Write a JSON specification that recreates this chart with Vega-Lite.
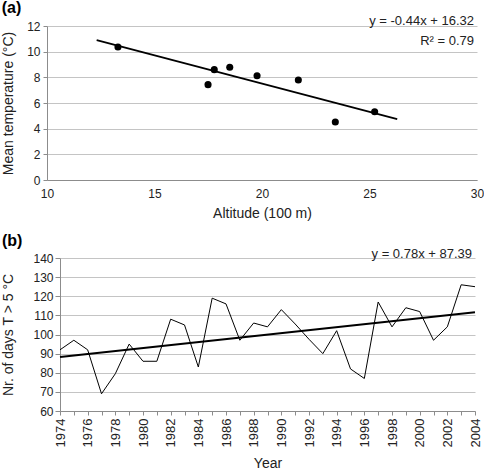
{
  "$schema": "https://vega.github.io/schema/vega-lite/v6.json",
  "padding": {"left": 0, "top": 0, "right": 0, "bottom": 0},
  "spacing": 13,
  "config": {
    "font": "Liberation Sans",
    "view": {"stroke": null},
    "concat": {"spacing": 0},
    "title": {"fontSize": 16, "fontWeight": "bold", "anchor": "start", "frame": "bounds", "color": "#000", "offset": -1.5},
    "axis": {
      "labelFont": "Liberation Sans", "titleFont": "Liberation Sans",
      "labelFontSize": 12, "titleFontSize": 14, "titleFontWeight": "normal",
      "labelColor": "#222", "titleColor": "#222",
      "domainColor": "#8c8c8c", "tickColor": "#8c8c8c", "gridColor": "#c4c4c4",
      "tickSize": 4, "labelOverlap": false, "labelBound": false, "format": "d"
    }
  },
  "datasets": {
    "spacer": [{"s": 0}],
    "alt": [
      {"altitude": 13.3, "temp": 10.36},
      {"altitude": 17.49, "temp": 7.43},
      {"altitude": 17.78, "temp": 8.6},
      {"altitude": 18.5, "temp": 8.78},
      {"altitude": 19.77, "temp": 8.13},
      {"altitude": 21.69, "temp": 7.79},
      {"altitude": 23.41, "temp": 4.52},
      {"altitude": 25.24, "temp": 5.32}
    ],
    "altfit": [
      {"altitude": 12.31, "temp": 10.9},
      {"altitude": 26.29, "temp": 4.75}
    ],
    "altlab": [
      {"x": 30, "y": 12.4, "label": "y = -0.44x + 16.32"},
      {"x": 30, "y": 10.8, "label": "R² = 0.79"}
    ],
    "days": [
      {"year": 1974, "days": 92},
      {"year": 1975, "days": 97},
      {"year": 1976, "days": 92},
      {"year": 1977, "days": 69},
      {"year": 1978, "days": 79.5},
      {"year": 1979, "days": 95},
      {"year": 1980, "days": 86},
      {"year": 1981, "days": 86},
      {"year": 1982, "days": 108},
      {"year": 1983, "days": 105},
      {"year": 1984, "days": 83},
      {"year": 1985, "days": 119},
      {"year": 1986, "days": 116},
      {"year": 1987, "days": 97},
      {"year": 1988, "days": 106},
      {"year": 1989, "days": 104},
      {"year": 1990, "days": 113},
      {"year": 1991, "days": 105.5},
      {"year": 1992, "days": 97.5},
      {"year": 1993, "days": 90},
      {"year": 1994, "days": 102},
      {"year": 1995, "days": 82},
      {"year": 1996, "days": 77},
      {"year": 1997, "days": 117},
      {"year": 1998, "days": 104},
      {"year": 1999, "days": 114},
      {"year": 2000, "days": 112},
      {"year": 2001, "days": 97},
      {"year": 2002, "days": 104},
      {"year": 2003, "days": 126},
      {"year": 2004, "days": 125}
    ],
    "dayfit": [
      {"year": 1974, "days": 88.2},
      {"year": 2004, "days": 111.6}
    ],
    "daylab": [
      {"x": 2004, "y": 142.2, "label": "y = 0.78x + 87.39"}
    ]
  },
  "vconcat": [
    {
      "spacing": 0,
      "align": "none",
      "hconcat": [
        {
          "width": 1, "height": 1,
          "data": {"name": "spacer"},
          "mark": {"type": "point", "opacity": 0, "size": 0, "strokeWidth": 0},
          "encoding": {}
        },
        {
          "title": "(a)",
          "width": 430,
          "height": 154,
          "layer": [
            {
              "data": {"name": "altfit"},
              "mark": {"type": "line", "color": "#000", "strokeWidth": 1.8},
              "encoding": {
                "x": {"field": "altitude", "type": "quantitative", "scale": {"domain": [10, 30], "nice": false},
                  "axis": {"title": "Altitude (100 m)", "values": [10, 15, 20, 25, 30], "tickCount": 20, "grid": false, "ticks": false, "labelPadding": 8, "titlePadding": 7, "labelFlush": false}},
                "y": {"field": "temp", "type": "quantitative", "scale": {"domain": [0, 12], "nice": false},
                  "axis": {"title": "Mean temperature (°C)", "values": [0, 2, 4, 6, 8, 10, 12], "tickCount": 20, "grid": true, "labelPadding": 3, "titlePadding": 11}}
              }
            },
            {
              "data": {"name": "alt"},
              "mark": {"type": "circle", "color": "#000", "opacity": 1, "size": 50},
              "encoding": {
                "x": {"field": "altitude", "type": "quantitative"},
                "y": {"field": "temp", "type": "quantitative"}
              }
            },
            {
              "data": {"name": "altlab"},
              "mark": {"type": "text", "align": "right", "baseline": "middle", "fontSize": 13, "color": "#222", "dx": -3},
              "encoding": {
                "x": {"field": "x", "type": "quantitative"},
                "y": {"field": "y", "type": "quantitative"},
                "text": {"field": "label"}
              }
            }
          ]
        }
      ]
    },
    {
      "spacing": 0,
      "align": "none",
      "hconcat": [
        {
          "width": 1, "height": 1,
          "data": {"name": "spacer"},
          "mark": {"type": "point", "opacity": 0, "size": 0, "strokeWidth": 0},
          "encoding": {}
        },
        {
          "title": "(b)",
          "width": 415,
          "height": 153,
          "layer": [
            {
              "data": {"name": "days"},
              "mark": {"type": "line", "color": "#000", "strokeWidth": 1},
              "encoding": {
                "x": {"field": "year", "type": "quantitative", "scale": {"domain": [1974, 2004], "nice": false},
                  "axis": {"title": "Year", "values": [1974,1975,1976,1977,1978,1979,1980,1981,1982,1983,1984,1985,1986,1987,1988,1989,1990,1991,1992,1993,1994,1995,1996,1997,1998,1999,2000,2001,2002,2003,2004],
                    "tickCount": 60,
                    "labelExpr": "datum.value % 2 == 0 ? format(datum.value, 'd') : ''", "labelAngle": -90, "labelAlign": "right", "labelBaseline": "middle",
                    "labelFontSize": 13, "grid": false, "labelPadding": 3, "titlePadding": 10, "labelFlush": false}},
                "y": {"field": "days", "type": "quantitative", "scale": {"domain": [60, 140], "nice": false},
                  "axis": {"title": "Nr. of days T > 5 °C", "values": [60, 70, 80, 90, 100, 110, 120, 130, 140], "tickCount": 20, "grid": true, "tickSize": 5, "labelPadding": 2, "titlePadding": 17}}
              }
            },
            {
              "data": {"name": "dayfit"},
              "mark": {"type": "line", "color": "#000", "strokeWidth": 2},
              "encoding": {
                "x": {"field": "year", "type": "quantitative"},
                "y": {"field": "days", "type": "quantitative"}
              }
            },
            {
              "data": {"name": "daylab"},
              "mark": {"type": "text", "align": "right", "baseline": "middle", "fontSize": 13, "color": "#222", "dx": -3},
              "encoding": {
                "x": {"field": "x", "type": "quantitative"},
                "y": {"field": "y", "type": "quantitative"},
                "text": {"field": "label"}
              }
            }
          ]
        }
      ]
    }
  ]
}
